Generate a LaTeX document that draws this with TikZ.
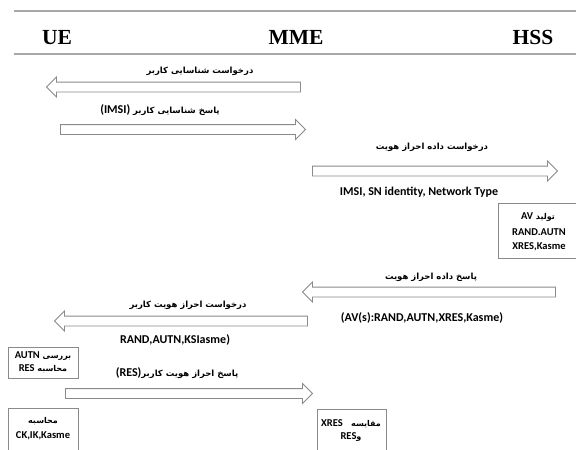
\documentclass[tikz,border=0pt]{standalone}
\usepackage{fontspec}
\usetikzlibrary{shapes.arrows}
\setmainfont{Carlito}
\newfontfamily\fa[Script=Arabic]{DejaVu Sans}
\newfontfamily\hdfont{Liberation Serif}
\TeXXeTstate=1
\definecolor{agray}{HTML}{8A8A8A}
\definecolor{lgray}{HTML}{A8A8A8}
\begin{document}
\begin{tikzpicture}[x=1pt,y=-1pt,
  barrow/.style={single arrow, draw=agray, fill=white, line width=0.9pt, inner xsep=0pt, inner ysep=4.5pt, single arrow head extend=5pt, minimum width=19pt},
  lbl/.style={inner sep=0pt, font=\fontsize{12}{14}\selectfont\bfseries},
  pl/.style={inner sep=0pt, font=\fontsize{8.5}{10}\selectfont\fa\bfseries},
  boxst/.style={draw=agray, line width=0.8pt, fill=white, anchor=north west, inner sep=0pt},
  btext/.style={inner sep=0pt, font=\fontsize{10.5}{12}\selectfont\bfseries},
  bfa/.style={inner sep=0pt, font=\fontsize{8}{9}\selectfont\fa\bfseries},
  head/.style={inner sep=0pt, anchor=base, font=\fontsize{21.5}{24}\selectfont\hdfont\bfseries}]
\useasboundingbox (0,0) rectangle (576,450);
\clip (0,0) rectangle (576,450);
\fill[white] (0,0) rectangle (576,450);
% header rules and titles
\coordinate (r1a) at (14,11); \coordinate (r1b) at (576,11);
\coordinate (r2a) at (14,54); \coordinate (r2b) at (576,54);
\draw[lgray, line width=1.2pt] (r1a) -- (r1b);
\draw[lgray, line width=1.2pt] (r2a) -- (r2b);
\node[head] (ue) at (57,44) {UE};
\node[head] (mme) at (296,44) {MME};
\node[head] (hss) at (533,44) {HSS};
% message 1
\node[barrow, shape border rotate=180, minimum height=254pt] (a1) at (176,87) {};
\node[pl] (l1) at (200,71) {\beginR درخواست شناسایی کاربر\endR};
% message 2
\node[barrow, minimum height=245pt] (a2) at (180.5,129.5) {};
\node[lbl] (l2) at (160,110) {(IMSI) {\fontsize{8.5}{10}\selectfont\fa\beginR پاسخ شناسایی کاربر\endR}};
% message 3
\node[barrow, minimum height=245pt] (a3) at (432.5,171) {};
\node[pl] (l3) at (432,147) {\beginR درخواست داده احراز هویت\endR};
\node[lbl] (l3b) at (419,192) {IMSI, SN identity, Network Type};
% HSS box
\node[boxst, minimum width=100pt, minimum height=55pt] (hbox) at (498,203) {};
\node[bfa] (h1) at (538,217) {\beginR تولید {\fontsize{10.5}{12}\selectfont\bfseries\rmfamily\beginL AV\endL}\endR};
\node[btext] (h2) at (539,232) {RAND.AUTN};
\node[btext] (h3) at (539,247) {XRES,Kasme};
% message 4
\node[barrow, shape border rotate=180, minimum height=253pt] (a4) at (431.5,292) {};
\node[pl] (l4) at (431,277) {\beginR پاسخ داده احراز هویت\endR};
\node[lbl] (l4b) at (422,318) {(AV(s):RAND,AUTN,XRES,Kasme)};
% message 5
\node[barrow, shape border rotate=180, minimum height=253pt] (a5) at (183.5,321) {};
\node[pl] (l5) at (188,305) {\beginR درخواست احراز هویت کاربر\endR};
\node[lbl] (l5b) at (175,340) {RAND,AUTN,KSIasme)};
% UE box 1
\node[boxst, minimum width=70pt, minimum height=31pt] (ubox1) at (8,347) {};
\node[bfa] (u11) at (43,356) {\beginR بررسی {\fontsize{10.5}{12}\selectfont\bfseries\rmfamily\beginL AUTN\endL}\endR};
\node[bfa] (u12) at (43,369) {\beginR محاسبه {\fontsize{10.5}{12}\selectfont\bfseries\rmfamily\beginL RES\endL}\endR};
% message 6
\node[barrow, minimum height=247pt] (a6) at (186.5,393.5) {};
\node[lbl] (l6) at (177,373) {(RES){\fontsize{8.5}{10}\selectfont\fa\beginR پاسخ احراز هویت کاربر\endR}};
% UE box 2
\node[boxst, minimum width=70pt, minimum height=60pt] (ubox2) at (8,408) {};
\node[bfa] (u21) at (43,421) {\beginR محاسبه\endR};
\node[btext] (u22) at (43,436) {CK,IK,Kasme};
% MME box
\node[boxst, minimum width=69pt, minimum height=60pt] (mbox) at (317,409) {};
\node[bfa] (m1) at (351,424) {\beginR مقایسه \ \ {\fontsize{10.5}{12}\selectfont\bfseries\rmfamily\beginL XRES\endL}\endR};
\node[btext] (m2) at (351,437) {RES{\fontsize{8}{9}\selectfont\fa\beginR و\endR}};
\end{tikzpicture}
\end{document}
